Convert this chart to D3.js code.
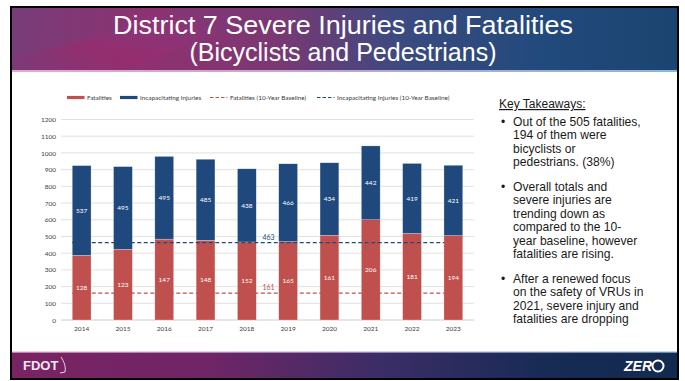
<!DOCTYPE html>
<html>
<head>
<meta charset="utf-8">
<script src="https://cdn.jsdelivr.net/npm/d3@7/dist/d3.min.js"></script>
<style>
  html, body { margin: 0; padding: 0; background: #fff; }
  svg { display: block; }
</style>
</head>
<body>
<svg id="slide" width="685" height="381"></svg>
<script>
// ---- Data -------------------------------------------------------------
const years = ["2014", "2015", "2016", "2017", "2018", "2019", "2020", "2021", "2022", "2023"];
// Total fatalities (lower stacked segment height)
const fatalities = [387, 423, 484, 477, 467, 469, 507, 600, 518, 505];
// Bicyclist / pedestrian fatalities (label shown inside the red segment)
const bikePedFatalities = [128, 123, 147, 148, 152, 165, 161, 206, 181, 194];
// Incapacitating injuries (upper stacked segment)
const injuries = [537, 495, 495, 485, 438, 466, 434, 442, 419, 421];
const fatalityBaseline = 161;
const injuryBaseline = 463;
const yTicks = [0, 100, 200, 300, 400, 500, 600, 700, 800, 900, 1000, 1100, 1200];

const title = ["District 7 Severe Injuries and Fatalities", "(Bicyclists and Pedestrians)"];
const titleWidths = [460, 307];
const takeaways = [
  ["Out of the 505 fatalities,", "194 of them were", "bicyclists or", "pedestrians. (38%)"],
  ["Overall totals and", "severe injuries are", "trending down as", "compared to the 10-", "year baseline, however", "fatalities are rising."],
  ["After a renewed focus", "on the safety of VRUs in", "2021, severe injury and", "fatalities are dropping"]
];

const RED = "#c0504d", BLUE = "#1f497d";
const chartFont = "Lato, 'Open Sans', sans-serif";
const slideFont = "'Liberation Sans', Arial, sans-serif";

const svg = d3.select("#slide");
const defs = svg.append("defs");

// ---- Slide frame, header and footer -----------------------------------
const hg = defs.append("linearGradient").attr("id", "hdr").attr("x1", "0").attr("y1", "0").attr("x2", "1").attr("y2", "0");
[["0%", "#773d78"], ["22%", "#8e3170"], ["40%", "#7a3873"], ["58%", "#3c4a80"], ["80%", "#214a7c"], ["100%", "#1c4470"]]
  .forEach(([o, c]) => hg.append("stop").attr("offset", o).attr("stop-color", c));
const streak = defs.append("linearGradient").attr("id", "streak").attr("x1", "0").attr("y1", "1").attr("x2", "1").attr("y2", "0");
[["0%", "#a0276a", 0], ["30%", "#a0276a", 0.55], ["60%", "#8a3a86", 0.25], ["100%", "#3b4f8c", 0]]
  .forEach(([o, c, a]) => streak.append("stop").attr("offset", o).attr("stop-color", c).attr("stop-opacity", a));
const fg = defs.append("linearGradient").attr("id", "ftr").attr("x1", "0").attr("y1", "0").attr("x2", "1").attr("y2", "0");
[["0%", "#7a2363"], ["30%", "#6f2566"], ["55%", "#3c2d66"], ["80%", "#172b55"], ["100%", "#122a50"]]
  .forEach(([o, c]) => fg.append("stop").attr("offset", o).attr("stop-color", c));
const lineG = defs.append("linearGradient").attr("id", "hline").attr("x1", "0").attr("y1", "0").attr("x2", "1").attr("y2", "0");
[["0%", "#e7a8cf"], ["50%", "#b9a6d6"], ["100%", "#8fb4d8"]]
  .forEach(([o, c]) => lineG.append("stop").attr("offset", o).attr("stop-color", c));

svg.append("rect").attr("x", 11).attr("y", 7).attr("width", 667).attr("height", 372).attr("fill", "#fff");
svg.append("rect").attr("x", 11).attr("y", 7).attr("width", 667).attr("height", 64).attr("fill", "url(#hdr)");
svg.append("path").attr("d", "M11,71 L11,58 C60,50 110,30 180,7 L300,7 C230,30 150,60 120,71 Z").attr("fill", "url(#streak)");
svg.append("rect").attr("x", 11).attr("y", 70).attr("width", 667).attr("height", 2).attr("fill", "url(#hline)");

svg.append("rect").attr("x", 11).attr("y", 352).attr("width", 667).attr("height", 27).attr("fill", "url(#ftr)");
svg.append("rect").attr("x", 11).attr("y", 351.5).attr("width", 667).attr("height", 1.2).attr("fill", "url(#hline)");

svg.append("rect").attr("x", 11).attr("y", 7).attr("width", 667).attr("height", 372)
  .attr("fill", "none").attr("stroke", "#000").attr("stroke-width", 2);

// title
svg.append("g").selectAll("text").data(title).join("text")
  .attr("x", 343).attr("y", (d, i) => 34 + i * 27)
  .attr("text-anchor", "middle").attr("fill", "#fff")
  .attr("textLength", (d, i) => titleWidths[i]).attr("lengthAdjust", "spacingAndGlyphs")
  .style("font-family", slideFont).style("font-size", "25px")
  .text(d => d);

// footer logos
svg.append("text").attr("x", 23).attr("y", 370).attr("fill", "#f3e6f0")
  .style("font-family", slideFont).style("font-size", "13px").style("font-weight", "bold")
  .text("FDOT");
svg.append("path").attr("d", "M61,357 C64,362 66,366 65,372 L60,373").attr("fill", "none")
  .attr("stroke", "#e9d3e4").attr("stroke-width", 1);
svg.append("text").attr("x", 624).attr("y", 371).attr("fill", "#fff")
  .style("font-family", slideFont).style("font-size", "14px").style("font-weight", "bold")
  .style("font-style", "italic").text("ZER");
svg.append("circle").attr("cx", 658).attr("cy", 366).attr("r", 5.5).attr("fill", "none")
  .attr("stroke", "#fff").attr("stroke-width", 2);

// ---- Chart ------------------------------------------------------------
const x = d3.scaleBand().domain(years).range([61, 474]).paddingInner(0).paddingOuter(0);
const y = d3.scaleLinear().domain([0, 1200]).range([320, 119.5]);
const barW = x.bandwidth() * 0.455;
const barX = d => x(d) + (x.bandwidth() - barW) / 2;

const chart = svg.append("g");

// gridlines
chart.append("g").selectAll("line").data(yTicks).join("line")
  .attr("x1", 61).attr("x2", 474)
  .attr("y1", d => y(d)).attr("y2", d => y(d))
  .attr("stroke", d => d === 0 ? "#bfbfbf" : "#d9d9d9").attr("stroke-width", 0.8);

// y axis labels
const yAxis = d3.axisLeft(y).tickValues(yTicks).tickFormat(d3.format("d")).tickSize(0).tickPadding(0);
chart.append("g").attr("transform", "translate(56,0)").call(yAxis)
  .call(g => g.select(".domain").remove())
  .call(g => g.selectAll("text").attr("fill", "#404040").style("font-family", chartFont).style("font-size", "6.5px"));

// x axis labels
const xAxis = d3.axisBottom(x).tickSize(0).tickPadding(0);
chart.append("g").attr("transform", "translate(0,326)").call(xAxis)
  .call(g => g.select(".domain").remove())
  .call(g => g.selectAll("text").attr("fill", "#404040").style("font-family", chartFont).style("font-size", "6.5px"));

const rows = years.map((yr, i) => ({ yr, fat: fatalities[i], bp: bikePedFatalities[i], inj: injuries[i] }));

// fatalities segment
chart.append("g").selectAll("rect").data(rows).join("rect")
  .attr("x", d => barX(d.yr)).attr("width", barW)
  .attr("y", d => y(d.fat)).attr("height", d => y(0) - y(d.fat))
  .attr("fill", RED).attr("stroke", "#fff").attr("stroke-opacity", 0.5).attr("stroke-width", 0.5);
// injuries segment
chart.append("g").selectAll("rect").data(rows).join("rect")
  .attr("x", d => barX(d.yr)).attr("width", barW)
  .attr("y", d => y(d.fat + d.inj)).attr("height", d => y(d.fat) - y(d.fat + d.inj))
  .attr("fill", BLUE).attr("stroke", "#fff").attr("stroke-opacity", 0.5).attr("stroke-width", 0.5);

// segment labels
const lblStyle = sel => sel.attr("text-anchor", "middle").attr("dy", "0.35em").attr("fill", "#fff")
  .style("font-family", chartFont).style("font-size", "6.5px");
chart.append("g").selectAll("text").data(rows).join("text")
  .attr("x", d => x(d.yr) + x.bandwidth() / 2).attr("y", d => (y(0) + y(d.fat)) / 2)
  .call(lblStyle).text(d => d.bp);
chart.append("g").selectAll("text").data(rows).join("text")
  .attr("x", d => x(d.yr) + x.bandwidth() / 2).attr("y", d => (y(d.fat) + y(d.fat + d.inj)) / 2)
  .call(lblStyle).text(d => d.inj);

// baselines
const bx1 = barX(years[0]), bx2 = barX(years[years.length - 1]);
const baselines = [{ v: fatalityBaseline, c: RED }, { v: injuryBaseline, c: BLUE }];
chart.append("g").selectAll("line").data(baselines).join("line")
  .attr("x1", bx1).attr("x2", bx2).attr("y1", d => y(d.v)).attr("y2", d => y(d.v))
  .attr("stroke", d => d.c).attr("stroke-width", 1.3).attr("stroke-dasharray", "4,2.5");
chart.append("g").selectAll("text").data(baselines).join("text")
  .attr("x", (x(years[4]) + x.bandwidth() + x(years[5])) / 2 + 1)
  .attr("y", d => y(d.v) - 3)
  .attr("text-anchor", "middle").attr("fill", d => d.c)
  .style("font-family", chartFont).style("font-size", "7px").text(d => d.v);

// legend
const legend = [
  { name: "Fatalities", c: RED, dash: false, x: 67 },
  { name: "Incapacitating Injuries", c: BLUE, dash: false, x: 120 },
  { name: "Fatalities (10-Year Baseline)", c: RED, dash: true, x: 210 },
  { name: "Incapacitating Injuries (10-Year Baseline)", c: BLUE, dash: true, x: 317 }
];
const lg = chart.append("g").selectAll("g").data(legend).join("g")
  .attr("transform", d => `translate(${d.x},97.5)`);
lg.filter(d => !d.dash).append("rect").attr("x", 0).attr("y", -1.6).attr("width", 17.5).attr("height", 3.2).attr("fill", d => d.c);
lg.filter(d => d.dash).append("line").attr("x1", 0).attr("x2", 17.5).attr("y1", 0).attr("y2", 0)
  .attr("stroke", d => d.c).attr("stroke-width", 1.1).attr("stroke-dasharray", "3.5,2");
lg.append("text").attr("x", 20).attr("dy", "0.35em").attr("fill", "#404040")
  .style("font-family", chartFont).style("font-size", "6.4px").text(d => d.name);

// ---- Key takeaways ------------------------------------------------------
const kt = svg.append("g").style("font-family", slideFont).attr("fill", "#1a1a1a");
kt.append("text").attr("x", 499).attr("y", 108).style("font-size", "12px")
  .style("text-decoration", "underline").text("Key Takeaways:");
let ly = 126;
takeaways.forEach((para) => {
  kt.append("text").attr("x", 501).attr("y", ly).style("font-size", "12px").text("•");
  para.forEach((line, li) => {
    kt.append("text").attr("x", 513).attr("y", ly + li * 13.35).style("font-size", "12.1px").text(line);
  });
  ly += para.length * 13.35 + 11.7;
});
</script>
</body>
</html>
